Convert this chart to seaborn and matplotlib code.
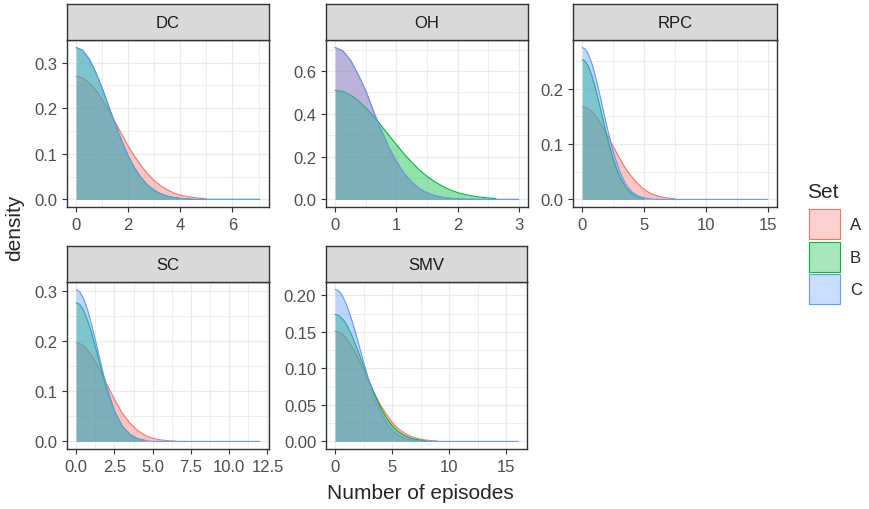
import numpy as np
import pandas as pd
import matplotlib
matplotlib.use("Agg")
import matplotlib.pyplot as plt
import seaborn as sns
from matplotlib.patches import Patch

dc_x = [0, 0.25, 0.5, 0.75, 1.0, 1.25, 1.5, 1.75, 2.0, 2.25, 2.5, 2.75, 3.0, 3.25,
        3.5, 3.75, 4.0, 4.25, 4.5, 4.75, 5.0, 7.05]
dc_a = [0.270, 0.267, 0.256, 0.240, 0.219, 0.195, 0.169, 0.143, 0.117, 0.094, 0.073,
        0.056, 0.041, 0.030, 0.021, 0.014, 0.0096, 0.0063, 0.0040, 0.0025, 0.0015, None]
dc_b = [0.333, 0.327, 0.308, 0.279, 0.244, 0.204, 0.165, 0.128, 0.095, 0.068, 0.047,
        0.031, 0.020, 0.012, 0.0073, 0.0041, 0.0022, 0.0012, 0, 0, 0, 0]
dc_c = [0.333, 0.327, 0.308, 0.279, 0.244, 0.204, 0.165, 0.128, 0.095, 0.068, 0.047,
        0.031, 0.020, 0.012, 0.0073, 0.0041, 0.0022, 0.0012, 0, 0, 0, 0]

oh_x = [0, 0.125, 0.25, 0.375, 0.5, 0.625, 0.75, 0.875, 1.0, 1.125, 1.25, 1.375, 1.5,
        1.625, 1.75, 1.875, 2.0, 2.125, 2.25, 2.375, 2.5, 2.625, 3.0]
oh_a = [0.710, 0.695, 0.651, 0.584, 0.508, 0.413, 0.325, 0.245, 0.177, 0.122, 0.081,
        0.051, 0.031, 0.018, 0.010, 0.0054, 0.0027, 0.0013, 0.0006, 0, 0, 0, 0]
oh_b = [0.510, 0.505, 0.488, 0.463, 0.429, 0.390, 0.346, 0.301, 0.256, 0.213, 0.174,
        0.138, 0.108, 0.083, 0.062, 0.045, 0.032, 0.023, 0.0155, 0.0104, 0.0068, 0.0044, None]
oh_c = [0.710, 0.695, 0.651, 0.584, 0.508, 0.413, 0.325, 0.245, 0.177, 0.122, 0.081,
        0.051, 0.031, 0.018, 0.010, 0.0054, 0.0027, 0.0013, 0.0006, 0, 0, 0, 0]

rpc_x = [0, 0.25, 0.5, 0.75, 1.0, 1.25, 1.5, 1.75, 2.0, 2.5, 3.0, 3.5, 4.0, 4.5, 5.0,
         5.5, 6.0, 6.5, 7.0, 7.5, 15.0]
rpc_a = [0.167, 0.166, 0.163, 0.159, 0.153, 0.145, 0.137, 0.127, 0.117, 0.096, 0.075,
         0.056, 0.041, 0.028, 0.018, 0.011, 0.0069, 0.0040, 0.0022, 0.0012, None]
rpc_b = [0.252, 0.249, 0.240, 0.225, 0.206, 0.184, 0.161, 0.137, 0.113, 0.072, 0.042,
         0.022, 0.010, 0.0044, 0.0017, None, None, None, None, None, None]
rpc_c = [0.274, 0.271, 0.262, 0.247, 0.228, 0.205, 0.181, 0.155, 0.131, 0.086, 0.052,
         0.028, 0.014, 0.0064, 0.0027, 0.0010, 0, 0, 0, 0, 0]

sc_x = [0, 0.25, 0.5, 0.75, 1.0, 1.25, 1.5, 1.75, 2.0, 2.5, 3.0, 3.5, 4.0, 4.5, 5.0,
        5.5, 6.0, 6.5, 12.0]
sc_a = [0.197, 0.195, 0.190, 0.182, 0.172, 0.159, 0.145, 0.130, 0.114, 0.084, 0.057,
        0.037, 0.022, 0.012, 0.0064, 0.0031, 0.0014, 0.0006, None]
sc_b = [0.277, 0.273, 0.261, 0.241, 0.217, 0.189, 0.160, 0.131, 0.104, 0.060, 0.031,
        0.014, 0.0056, 0.0020, None, None, None, None, None]
sc_c = [0.303, 0.298, 0.284, 0.262, 0.234, 0.203, 0.170, 0.138, 0.109, 0.061, 0.030,
        0.013, 0.005, 0.0017, 0, 0, 0, 0, 0]

smv_x = [0, 0.25, 0.5, 0.75, 1.0, 1.25, 1.5, 1.75, 2.0, 2.5, 3.0, 3.5, 4.0, 4.5, 5.0,
         5.5, 6.0, 6.5, 7.0, 7.5, 8.0, 8.5, 9.0, 16.0]
smv_a = [0.151, 0.150, 0.148, 0.145, 0.141, 0.135, 0.129, 0.122, 0.114, 0.098, 0.080,
         0.064, 0.049, 0.037, 0.026, 0.018, 0.012, 0.0079, 0.0049, 0.0030, 0.0017,
         0.0010, 0.0005, None]
smv_b = [0.174, 0.173, 0.170, 0.166, 0.160, 0.152, 0.144, 0.134, 0.124, 0.103, 0.082,
         0.063, 0.046, 0.032, 0.0216, 0.014, 0.0086, 0.0051, 0.0029, 0.0016, 0.0008,
         None, None, None]
smv_c = [0.208, 0.207, 0.203, 0.196, 0.187, 0.176, 0.164, 0.151, 0.137, 0.108, 0.081,
         0.057, 0.039, 0.025, 0.015, 0.0086, 0.0047, 0.0024, 0.0012, 0.0006, 0, 0, 0, 0]

facets = ["DC", "OH", "RPC", "SC", "SMV"]
sets = ["A", "B", "C"]
facet_data = {
    "DC": (dc_x, dc_a, dc_b, dc_c),
    "OH": (oh_x, oh_a, oh_b, oh_c),
    "RPC": (rpc_x, rpc_a, rpc_b, rpc_c),
    "SC": (sc_x, sc_a, sc_b, sc_c),
    "SMV": (smv_x, smv_a, smv_b, smv_c),
}

# tick breaks / labels per facet (free scales)
x_breaks = {"DC": [0, 2, 4, 6], "OH": [0, 1, 2, 3], "RPC": [0, 5, 10, 15],
            "SC": [0, 2.5, 5, 7.5, 10, 12.5], "SMV": [0, 5, 10, 15]}
x_labels = {"DC": ["0", "2", "4", "6"], "OH": ["0", "1", "2", "3"],
            "RPC": ["0", "5", "10", "15"],
            "SC": ["0.0", "2.5", "5.0", "7.5", "10.0", "12.5"],
            "SMV": ["0", "5", "10", "15"]}
y_breaks = {"DC": [0, 0.1, 0.2, 0.3], "OH": [0, 0.2, 0.4, 0.6], "RPC": [0, 0.1, 0.2],
            "SC": [0, 0.1, 0.2, 0.3], "SMV": [0, 0.05, 0.10, 0.15, 0.20]}
y_labels = {"DC": ["0.0", "0.1", "0.2", "0.3"], "OH": ["0.0", "0.2", "0.4", "0.6"],
            "RPC": ["0.0", "0.1", "0.2"], "SC": ["0.0", "0.1", "0.2", "0.3"],
            "SMV": ["0.00", "0.05", "0.10", "0.15", "0.20"]}

rows = []
for f in facets:
    xs, a, b, c = facet_data[f]
    for s, ys in zip(sets, (a, b, c)):
        for xv, yv in zip(xs, ys):
            rows.append({"facet": f, "Set": s, "x": xv,
                         "density": np.nan if yv is None else yv})
df = pd.DataFrame(rows)

sns.set_theme(style="white")
plt.rcParams["font.family"] = ["Liberation Sans", "DejaVu Sans"]

palette = {"A": "#F8766D", "B": "#00BA38", "C": "#619CFF"}
ALPHA = 0.42
W, H = 870, 510
fig = plt.figure(figsize=(W / 100, H / 100), dpi=100)

# panel boxes in pixels: x0, x1, strip top, panel top, panel bottom
boxes = {
    "DC": (67, 269, 5, 41, 208),
    "OH": (326, 528, 5, 41, 208),
    "RPC": (573, 777, 5, 41, 208),
    "SC": (67, 269, 247, 283, 450),
    "SMV": (326, 527, 247, 283, 450),
}


def frac(x0, x1, y0, y1):
    return [x0 / W, 1 - y1 / H, (x1 - x0) / W, (y1 - y0) / H]


def minor_breaks(br, lo, hi):
    step = br[1] - br[0]
    cand = [br[0] - step / 2] + [b + step / 2 for b in br]
    return [m for m in cand if lo <= m <= hi]


for f in facets:
    x0, x1, st, pt, pb = boxes[f]
    ax = fig.add_axes(frac(x0, x1, pt, pb))
    sub = df[df.facet == f]
    # area then outline per set, so later fills veil earlier outlines
    for i, s in enumerate(sets):
        d = sub[sub.Set == s].dropna()
        ax.fill_between(d.x, d.density, 0, color=palette[s], alpha=ALPHA, lw=0,
                        zorder=2 * i + 1)
        sns.lineplot(data=d, x="x", y="density", color=palette[s], lw=0.8,
                     estimator=None, sort=False, ax=ax, zorder=2 * i + 2)
    xmax = sub.x.max()
    ymax = sub.density.max()
    xlim = (-0.05 * xmax, 1.05 * xmax)
    ylim = (-0.05 * ymax, 1.05 * ymax)
    ax.set_xlim(xlim)
    ax.set_ylim(ylim)
    ax.set_xticks(x_breaks[f])
    ax.set_xticklabels(x_labels[f])
    ax.set_yticks(y_breaks[f])
    ax.set_yticklabels(y_labels[f])
    ax.set_xticks(minor_breaks(x_breaks[f], *xlim), minor=True)
    ax.set_yticks(minor_breaks(y_breaks[f], *ylim), minor=True)
    ax.grid(True, which="major", color="#EBEBEB", lw=0.9)
    ax.grid(True, which="minor", color="#EBEBEB", lw=0.6)
    ax.set_axisbelow(True)
    ax.set(xlabel="", ylabel="")
    ax.tick_params(which="major", direction="out", length=3.6, width=0.8,
                   color="#333333", labelsize=12, labelcolor="#4D4D4D", pad=3.5,
                   bottom=True, left=True)
    ax.tick_params(which="minor", length=0)
    for sp in ax.spines.values():
        sp.set_color("#333333")
        sp.set_linewidth(1.0)
        sp.set_zorder(10)

    # facet strip
    sax = fig.add_axes(frac(x0, x1, st, pt))
    sax.set_facecolor("#D9D9D9")
    sax.set_xticks([])
    sax.set_yticks([])
    for sp in sax.spines.values():
        sp.set_color("#333333")
        sp.set_linewidth(1.0)
    sax.text(0.5, 0.5, f, ha="center", va="center", fontsize=12, color="#1A1A1A",
             transform=sax.transAxes)

fig.text(15 / W, 1 - 228 / H, "density", rotation=90, ha="center", va="center",
         fontsize=15)
fig.text(420 / W, 1 - 494 / H, "Number of episodes", ha="center", va="center",
         fontsize=15)

# legend: title placed on its own, keys below
fig.text(807 / W, 1 - 192 / H, "Set", ha="left", va="center", fontsize=15)
handles = [Patch(facecolor=matplotlib.colors.to_rgba(palette[s], ALPHA * 0.8),
                 edgecolor=palette[s], lw=0.8, label=s) for s in sets]
leg = fig.legend(handles=handles, loc="upper left",
                 bbox_to_anchor=(809 / W, 1 - 210 / H), frameon=False,
                 fontsize=12, handlelength=1.86,
                 handleheight=2.4, labelspacing=0.15, handletextpad=0.6,
                 borderpad=0, borderaxespad=0)

plt.savefig("out.png", dpi=100)
